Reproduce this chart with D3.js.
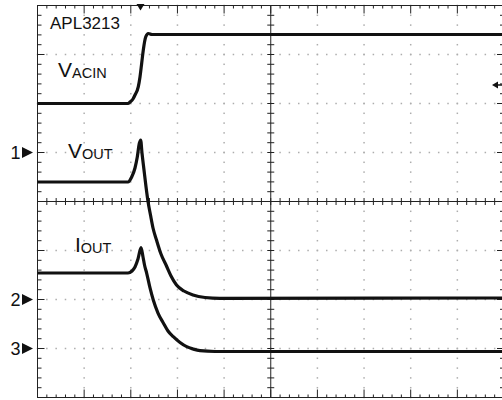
<!DOCTYPE html>
<html>
  <head>
    <meta charset="utf-8">
    <title>APL3213</title>
    <script src="https://d3js.org/d3.v7.min.js"></script>
    <style>
      body { margin: 0; background: #fff; }
      svg { display: block; font-family: "Liberation Sans", Arial, sans-serif; }
    </style>
  </head>
  <body>
    <div id="chart"></div>
    <script>
      // traces, in screen divisions [time, level]
      const vacin = [[0, 2.0], [1.94, 2.0], [1.983, 2.031], [2.047, 2.092], [2.09, 2.173], [2.161, 2.343],
        [2.197, 2.541], [2.234, 2.827], [2.268, 3.092], [2.319, 3.357], [2.375, 3.429], [2.454, 3.408], [10, 3.408]];
      const vout = [[0, 0.398], [1.94, 0.398], [2.019, 0.5], [2.09, 0.684], [2.139, 0.908], [2.182, 1.184],
        [2.212, 1.255], [2.24, 0.99], [2.283, 0.643], [2.326, 0.302], [2.369, 0], [2.422, -0.276],
        [2.476, -0.541], [2.551, -0.786], [2.647, -1.071], [2.765, -1.316], [2.862, -1.52], [2.98, -1.704],
        [3.14, -1.827], [3.333, -1.908], [3.591, -1.959], [3.912, -1.976], [10, -1.969]];
      const iout = [[0, -1.459], [1.94, -1.459], [2.026, -1.418], [2.09, -1.337], [2.154, -1.173], [2.219, -0.943],
        [2.262, -1.133], [2.294, -1.296], [2.341, -1.465], [2.412, -1.765], [2.482, -2.01], [2.583, -2.276],
        [2.697, -2.48], [2.797, -2.643], [2.911, -2.759], [3.055, -2.878], [3.198, -2.963], [3.333, -3.01],
        [3.483, -3.045], [3.805, -3.061], [10, -3.061]];
      // channel ground markers and trigger
      const channels = ["1", "2", "3"];
      const channelLevels = [1, -2, -3];
      const triggerTime = 2.208;
      const triggerLevel = 2.378;

      const width = 502, height = 400;
      const svg = d3.select("#chart").append("svg")
        .attr("width", width)
        .attr("height", height);

      const x = d3.scaleLinear().domain([0, 10]).range([37.5, 504]);
      const y = d3.scaleLinear().domain([-4, 4]).range([397.5, 5.5]);

      const minor = d3.range(0, 50.5).map(d => d / 5);
      const minorY = d3.range(-20, 20.5).map(d => d / 5);
      const isMajor = v => Math.abs(v - Math.round(v)) < 1e-6;

      // dotted grid
      const dots = svg.append("g").attr("fill", "#adadad");
      d3.range(1, 10).filter(k => k != 5).forEach(k => {
        dots.selectAll(null).data(minorY).enter().append("rect")
          .attr("x", x(k) - 0.75).attr("y", d => y(d) - 0.75)
          .attr("width", 1.5).attr("height", 1.5);
      });
      d3.range(-3, 4).filter(j => j != 0).forEach(j => {
        dots.selectAll(null).data(minor).enter().append("rect")
          .attr("x", d => x(d) - 0.75).attr("y", y(j) - 0.75)
          .attr("width", 1.5).attr("height", 1.5);
      });

      // frame, centre cross and ticks
      const frame = svg.append("g").attr("stroke", "#222").attr("stroke-width", 1).attr("fill", "none");
      frame.append("rect")
        .attr("x", x(0)).attr("y", y(4))
        .attr("width", x(10) - x(0)).attr("height", y(-4) - y(4));
      frame.append("line").attr("x1", x(5)).attr("x2", x(5)).attr("y1", y(4)).attr("y2", y(-4));
      frame.append("line").attr("x1", x(0)).attr("x2", x(10)).attr("y1", y(0)).attr("y2", y(0));
      frame.append("path").attr("d",
        minor.map(d => {
          const len = isMajor(d) ? 8 : 3;
          return "M" + x(d) + "," + y(4) + "v" + len +
            "M" + x(d) + "," + y(-4) + "v" + (-len) +
            "M" + x(d) + "," + (y(0) - 3.5) + "v7";
        }).join("") +
        minorY.map(d => {
          const len = isMajor(d) ? 7 : 4;
          return "M" + x(0) + "," + y(d) + "h" + len +
            "M" + x(10) + "," + y(d) + "h" + (-len) +
            "M" + (x(5) - 3.5) + "," + y(d) + "h7";
        }).join(""));

      // traces
      const line = d3.line()
        .x(d => x(d[0]))
        .y(d => y(d[1]))
        .curve(d3.curveMonotoneX);
      svg.append("g")
        .attr("fill", "none")
        .attr("stroke", "#111")
        .attr("stroke-width", 3.2)
        .attr("stroke-linejoin", "round")
        .selectAll("path")
          .data([vacin, vout, iout])
        .enter().append("path")
          .attr("d", line);

      // trigger marks
      const tx = x(triggerTime), ty = y(triggerLevel);
      svg.append("path")
        .attr("d", "M" + (tx - 4) + ",4L" + (tx + 4) + ",4L" + tx + ",10.5Z")
        .attr("fill", "#111");
      svg.append("path")
        .attr("d", "M492," + ty + "l6,-3.5v7Z")
        .attr("fill", "#111");
      svg.append("line")
        .attr("x1", 496).attr("x2", 502).attr("y1", ty).attr("y2", ty)
        .attr("stroke", "#111").attr("stroke-width", 1.5);

      // channel markers
      const marks = svg.append("g").selectAll("g")
          .data(channels)
        .enter().append("g")
          .attr("transform", (d, i) => "translate(0," + y(channelLevels[i]) + ")");
      marks.append("text")
        .attr("x", 20.5).attr("y", 6.5)
        .attr("text-anchor", "end")
        .attr("font-size", 18)
        .attr("fill", "#111")
        .text(d => d);
      marks.append("path")
        .attr("d", "M22,-5.5L33,0L22,5.5Z")
        .attr("fill", "#111");

      // labels
      svg.append("text")
        .attr("x", 50).attr("y", 29)
        .attr("font-size", 17)
        .attr("fill", "#111")
        .text("APL3213");
      const labels = [
        { main: "V", sub: "ACIN", x: 58, y: 77 },
        { main: "V", sub: "OUT", x: 68, y: 158 },
        { main: "I", sub: "OUT", x: 75, y: 252 }
      ];
      labels.forEach(l => {
        const t = svg.append("text")
          .attr("x", l.x).attr("y", l.y)
          .attr("fill", "#111");
        t.append("tspan").attr("font-size", 21).text(l.main);
        t.append("tspan").attr("font-size", 14.5).attr("dy", 1).text(l.sub);
      });
    </script>
  </body>
</html>
